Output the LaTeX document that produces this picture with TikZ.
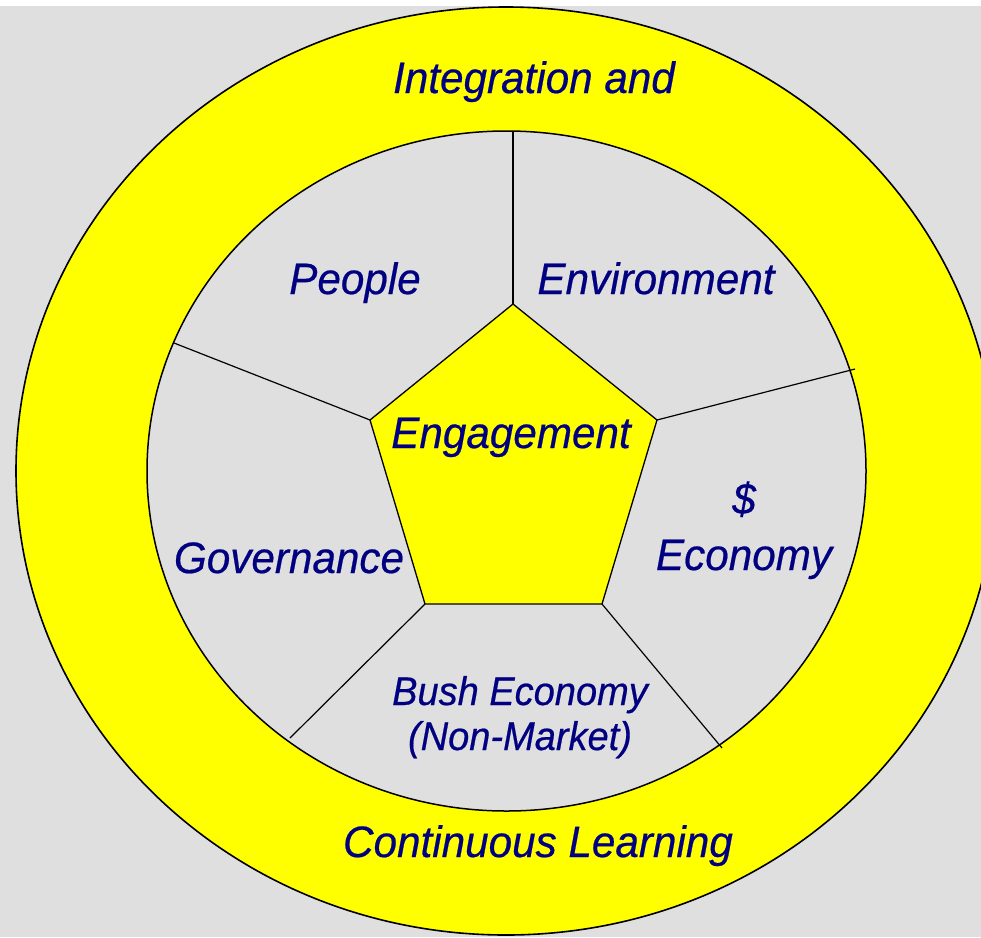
\documentclass[tikz,border=0pt]{standalone}
\usepackage{fontspec}
\setmainfont[ItalicFeatures={FakeBold=0.5}]{Liberation Sans}
\definecolor{bggray}{RGB}{223,223,223}
\definecolor{ringyellow}{RGB}{255,255,0}
\definecolor{txtnavy}{RGB}{0,0,128}
\begin{document}
\begin{tikzpicture}[x=1pt,y=-1pt,
  ringshape/.style={draw=black,line width=1.6pt,fill=ringyellow},
  innershape/.style={draw=black,line width=1.5pt,fill=bggray},
  pentshape/.style={draw=black,line width=1.3pt,fill=ringyellow,line join=miter},
  spoke/.style={draw=black,line width=1.2pt},
  lbl/.style={text=txtnavy,anchor=base,inner sep=0pt,xscale=0.96,
    font=\fontsize{44}{50}\selectfont\itshape},
  smalllbl/.style={lbl,xscale=0.99,font=\fontsize{40}{45}\selectfont\itshape}]
\useasboundingbox (0,0) rectangle (981,937);
\fill[white] (0,0) rectangle (981,6);
\fill[bggray] (0,6) rectangle (981,937);
\draw[ringshape] (506,471) ellipse [x radius=490, y radius=464];
\draw[innershape] (506.5,471) ellipse [x radius=359.5, y radius=340];
% pentagon vertices
\coordinate (pt) at (513,304);
\coordinate (pur) at (657,420);
\coordinate (plr) at (602,604);
\coordinate (pll) at (425,604);
\coordinate (pul) at (370,420);
% spoke ends on inner circle
\coordinate (st) at (513,131);
\coordinate (sur) at (855,369);
\coordinate (slr) at (722,748);
\coordinate (sll) at (290,738);
\coordinate (sul) at (174,343);
\draw[spoke] (pt) -- (st);
\draw[spoke] (pur) -- (sur);
\draw[spoke] (plr) -- (slr);
\draw[spoke] (pll) -- (sll);
\draw[spoke] (pul) -- (sul);
\draw[pentshape] (pt) -- (pur) -- (plr) -- (pll) -- (pul) -- cycle;
% labels
\node[lbl] (integ) at (534,93) {Integration and};
\node[lbl] (cont) at (538,857) {Continuous Learning};
\node[lbl] (people) at (355,294) {People};
\node[lbl] (env) at (656,294) {Environment};
\node[lbl] (eng) at (511,448) {Engagement};
\node[lbl] (gov) at (289,573) {Governance};
\node[lbl] (dollar) at (744,514) {\$};
\node[lbl] (econ) at (744,570) {Economy};
\node[smalllbl] (bush) at (520,705) {Bush Economy};
\node[smalllbl] (nonm) at (520,750) {(Non-Market)};
\end{tikzpicture}
\end{document}
